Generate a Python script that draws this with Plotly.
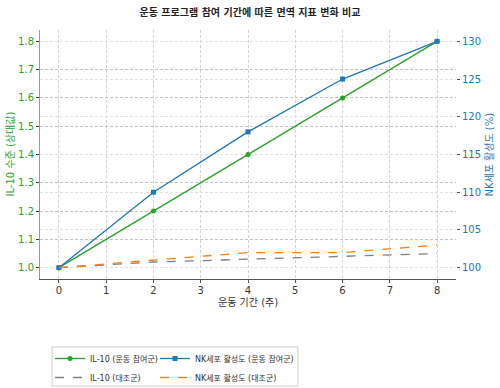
import plotly.graph_objects as go

weeks = [0, 2, 4, 6, 8]
il10_exercise = [1.0, 1.2, 1.4, 1.6, 1.8]
il10_control = [1.0, 1.02, 1.03, 1.04, 1.05]
nk_exercise = [100, 110, 118, 125, 130]
nk_control = [100, 101, 102, 102, 103]

title = "운동 프로그램 참여 기간에 따른 면역 지표 변화 비교"
x_title = "운동 기간 (주)"
y_left_title = "IL-10 수준 (상대값)"
y_right_title = "NK세포 활성도 (%)"
names = ["IL-10 (운동 참여군)", "NK세포 활성도 (운동 참여군)", "IL-10 (대조군)", "NK세포 활성도 (대조군)"]

GREEN = "#2ca02c"
BLUE = "#1f77b4"
GRAY = "#7f7f7f"
ORANGE = "#ff7f0e"
FONT = "DejaVu Sans, Noto Sans CJK KR, sans-serif"

fig = go.Figure()
fig.add_trace(go.Scatter(x=weeks, y=il10_exercise, name=names[0], mode="lines+markers", legend="legend",
                         line=dict(color=GREEN, width=1.3), marker=dict(symbol="circle", size=5, color=GREEN)))
fig.add_trace(go.Scatter(x=weeks, y=il10_control, name=names[2], mode="lines", legend="legend",
                         line=dict(color=GRAY, width=1.3, dash="dash")))
fig.add_trace(go.Scatter(x=weeks, y=nk_exercise, name=names[1], mode="lines+markers", yaxis="y2", legend="legend2",
                         line=dict(color=BLUE, width=1.3), marker=dict(symbol="square", size=5, color=BLUE)))
fig.add_trace(go.Scatter(x=weeks, y=nk_control, name=names[3], mode="lines", yaxis="y2", legend="legend2",
                         line=dict(color=ORANGE, width=1.3, dash="dash")))

leg_common = dict(orientation="v", xref="container", yref="container", yanchor="top", xanchor="left",
                  bgcolor="rgba(0,0,0,0)", borderwidth=0, font=dict(size=8, color="#333"),
                  tracegroupgap=0, itemwidth=30)

fig.update_layout(
    width=500, height=388,
    margin=dict(l=40, r=44, t=30, b=109, autoexpand=False),
    paper_bgcolor="white", plot_bgcolor="white",
    font=dict(family=FONT, size=10, color="#333"),
    title=dict(text="<b>" + title + "</b>", x=0.5, xanchor="center", y=0.968, yanchor="middle",
               font=dict(size=10, color="#222")),
    xaxis=dict(range=[-0.4, 8.4], tickmode="array", tickvals=list(range(0, 9)),
               showgrid=True, gridcolor="#d4d4d4", griddash="3px,2px", gridwidth=0.8,
               showline=True, linecolor="#555", linewidth=1, ticks="outside", ticklen=3,
               tickcolor="#555", zeroline=False, automargin=False, ticklabelstandoff=-1,
               tickfont=dict(size=10, color="#333")),
    yaxis=dict(range=[0.96, 1.84], tickmode="array", tickvals=[1.0, 1.1, 1.2, 1.3, 1.4, 1.5, 1.6, 1.7, 1.8],
               ticktext=["1.0", "1.1", "1.2", "1.3", "1.4", "1.5", "1.6", "1.7", "1.8"],
               showgrid=True, gridcolor="#c4c4c4", griddash="3px,2px", gridwidth=0.8,
               showline=True, linecolor="#999", linewidth=1, ticks="outside", ticklen=3, tickcolor="#333",
               zeroline=False, automargin=False, tickfont=dict(size=10, color=GREEN)),
    yaxis2=dict(range=[98.5, 131.5], overlaying="y", side="right", tickmode="array",
                tickvals=[100, 105, 110, 115, 120, 125, 130],
                showgrid=True, gridcolor="#e2e2e2", griddash="3px,2px", gridwidth=0.8,
                showline=False, ticks="outside", ticklen=3, tickcolor="#555", zeroline=False,
                automargin=False, tickfont=dict(size=10, color=BLUE)),
    legend=dict(x=0.1, y=0.1134, **leg_common),
    legend2=dict(x=0.31, y=0.1134, **leg_common),
    showlegend=True,
    shapes=[dict(type="rect", xref="paper", yref="paper", x0=0.029, x1=0.620, y0=-0.43, y1=-0.273,
                 line=dict(color="#cccccc", width=1), fillcolor="rgba(0,0,0,0)", layer="below")],
    annotations=[
        dict(text=x_title, xref="paper", yref="paper", x=0.5, y=-0.094, xanchor="center", yanchor="middle",
             showarrow=False, font=dict(size=10, color="#333")),
        dict(text=y_left_title, xref="paper", yref="paper", x=-0.072, y=0.5, xanchor="center", yanchor="middle",
             textangle=-90, showarrow=False, font=dict(size=10, color=GREEN)),
        dict(text=y_right_title, xref="paper", yref="paper", x=1.077, y=0.5, xanchor="center", yanchor="middle",
             textangle=-90, showarrow=False, font=dict(size=10, color=BLUE)),
    ],
)

fig.write_html("out.html", post_script="document.body.style.margin='0';",
               config={"displayModeBar": False})
